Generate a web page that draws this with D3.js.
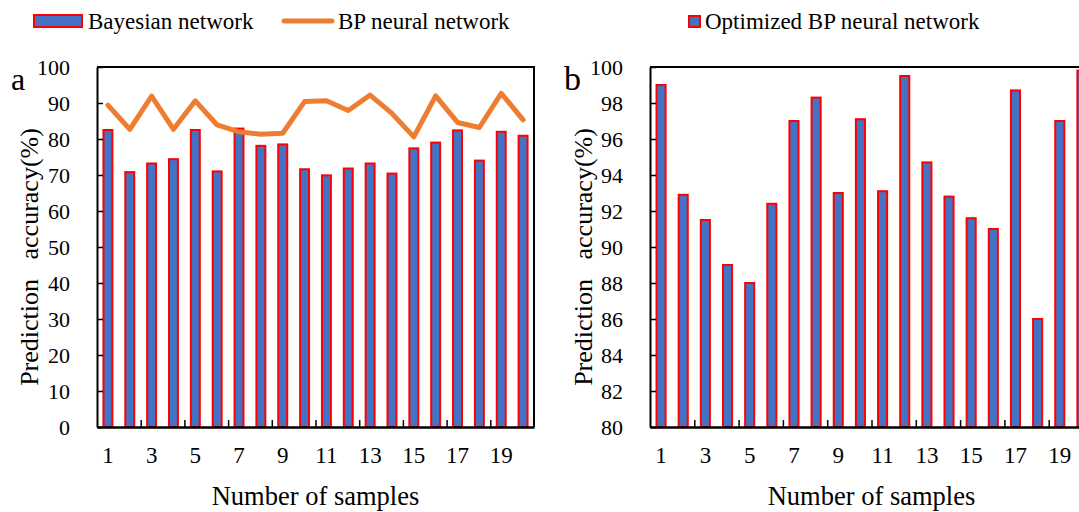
<!DOCTYPE html>
<html lang="en">
<head>
  <meta charset="UTF-8" />
  <title>Prediction accuracy</title>
  <style>
    body { margin: 0; background: #fff; }
    svg { display: block; font-family: "Liberation Serif", "Times New Roman", serif; }
  </style>
  <script src="https://d3js.org/d3.v7.min.js"></script>
</head>
<body>
  <script>
    // data
    const samples = d3.range(1, 21);
    const bayesian = [82.5, 70.8, 73.2, 74.4, 82.5, 71.0, 82.9, 78.1, 78.5, 71.6,
                      69.9, 71.8, 73.2, 70.4, 77.4, 79.0, 82.4, 74.0, 82.0, 80.9];
    const bpNeural = [89.4, 82.7, 91.9, 82.7, 90.6, 83.9, 82.0, 81.3, 81.6, 90.4,
                      90.6, 87.9, 92.2, 87.1, 80.6, 92.0, 84.6, 83.2, 92.7, 85.3];
    const optimized = [99.0, 92.9, 91.5, 89.0, 88.0, 92.4, 97.0, 98.3, 93.0, 97.1,
                       93.1, 99.5, 94.7, 92.8, 91.6, 91.0, 98.7, 86.0, 97.0, 99.8];
    const xLabels = [1, 3, 5, 7, 9, 11, 13, 15, 17, 19];
    const yTicksA = d3.range(0, 101, 10);
    const yTicksB = d3.range(80, 101, 2);

    const W = 1079, H = 512;
    const blue = "#4472C4", red = "#FF0000", orange = "#ED7D31";

    const svg = d3.select("body").append("svg")
      .attr("width", W)
      .attr("height", H);

    function panel(opt) {
      const g = svg.append("g");
      const x = d3.scaleBand()
        .domain(samples)
        .range([opt.left, opt.right])
        .paddingInner(0.59)
        .paddingOuter(0.295);
      const xb = d3.scaleLinear().domain([0, 20]).range([opt.left, opt.right]);
      const y = d3.scaleLinear().domain(opt.yDomain).range([opt.bottom, opt.top]);

      // bars
      g.selectAll("rect.bar")
        .data(opt.bars)
        .enter()
        .append("rect")
        .attr("class", "bar")
        .attr("x", (d, i) => x(samples[i]))
        .attr("y", d => y(d))
        .attr("width", x.bandwidth())
        .attr("height", d => y(opt.yDomain[0]) - y(d))
        .attr("fill", blue)
        .attr("stroke", red)
        .attr("stroke-width", 2);

      // frame top / right
      g.append("path")
        .attr("d", `M${opt.left},${opt.top}H${opt.right}V${opt.bottom}`)
        .attr("fill", "none")
        .attr("stroke", "#000")
        .attr("stroke-width", 2);

      // y axis
      const yAxis = g.append("g")
        .attr("transform", `translate(${opt.left},0)`)
        .call(d3.axisLeft(y).tickValues(opt.yTicks).tickSize(-6).tickPadding(27).tickSizeOuter(0));
      yAxis.select(".domain").attr("stroke-width", 2);
      yAxis.selectAll(".tick line").attr("stroke-width", 1.5);
      yAxis.selectAll("text").attr("font-size", 22).attr("fill", "#000")
        .attr("font-family", "Liberation Serif");

      // x axis: tick marks at every second boundary
      const xAxis = g.append("g")
        .attr("transform", `translate(0,${opt.bottom})`)
        .call(d3.axisBottom(xb).tickValues(d3.range(2, 20, 2)).tickSize(-7).tickFormat("").tickSizeOuter(0));
      xAxis.select(".domain").attr("stroke-width", 2.5);
      xAxis.selectAll(".tick line").attr("stroke-width", 1.5);

      // x labels at odd samples
      g.selectAll("text.xl")
        .data(xLabels)
        .enter()
        .append("text")
        .attr("class", "xl")
        .attr("x", d => x(d) + x.bandwidth() / 2)
        .attr("y", opt.bottom + 36)
        .attr("text-anchor", "middle")
        .attr("font-size", 23)
        .text(d => d);

      // axis titles
      g.append("text")
        .attr("x", (opt.left + opt.right) / 2)
        .attr("y", 505)
        .attr("text-anchor", "middle")
        .attr("font-size", 26.5)
        .text("Number of samples");

      g.append("text")
        .attr("transform", `translate(${opt.titleX},257) rotate(-90)`)
        .attr("text-anchor", "middle")
        .attr("font-size", 26)
        .style("white-space", "pre")
        .text("Prediction   accuracy(%)");

      g.append("text")
        .attr("x", opt.letterX)
        .attr("y", 90)
        .attr("font-size", opt.letterSize)
        .text(opt.letter);

      return { x, y, g };
    }

    const a = panel({
      left: 97, right: 534, top: 67, bottom: 427,
      yDomain: [0, 100], yTicks: yTicksA, bars: bayesian,
      titleX: 38, letter: "a", letterX: 11, letterSize: 32
    });

    // BP neural network line
    const line = d3.line()
      .x((d, i) => a.x(samples[i]) + a.x.bandwidth() / 2)
      .y(d => a.y(d));
    a.g.append("path")
      .datum(bpNeural)
      .attr("d", line)
      .attr("fill", "none")
      .attr("stroke", orange)
      .attr("stroke-width", 5)
      .attr("stroke-linejoin", "round")
      .attr("stroke-linecap", "round");

    panel({
      left: 650, right: 1093, top: 67, bottom: 427,
      yDomain: [80, 100], yTicks: yTicksB, bars: optimized,
      titleX: 592, letter: "b", letterX: 564, letterSize: 34
    });

    // legend
    const leg = svg.append("g").attr("font-size", 23);
    leg.append("rect").attr("x", 34).attr("y", 15).attr("width", 48).attr("height", 12)
      .attr("fill", blue).attr("stroke", red).attr("stroke-width", 2);
    leg.append("text").attr("x", 88).attr("y", 29).text("Bayesian network");
    leg.append("line").attr("x1", 284).attr("x2", 332).attr("y1", 21).attr("y2", 21)
      .attr("stroke", orange).attr("stroke-width", 5).attr("stroke-linecap", "round");
    leg.append("text").attr("x", 338).attr("y", 29).text("BP neural network");
    leg.append("rect").attr("x", 689).attr("y", 16).attr("width", 11).attr("height", 11)
      .attr("fill", blue).attr("stroke", red).attr("stroke-width", 2);
    leg.append("text").attr("x", 705).attr("y", 29).text("Optimized BP neural network");
  </script>
</body>
</html>
